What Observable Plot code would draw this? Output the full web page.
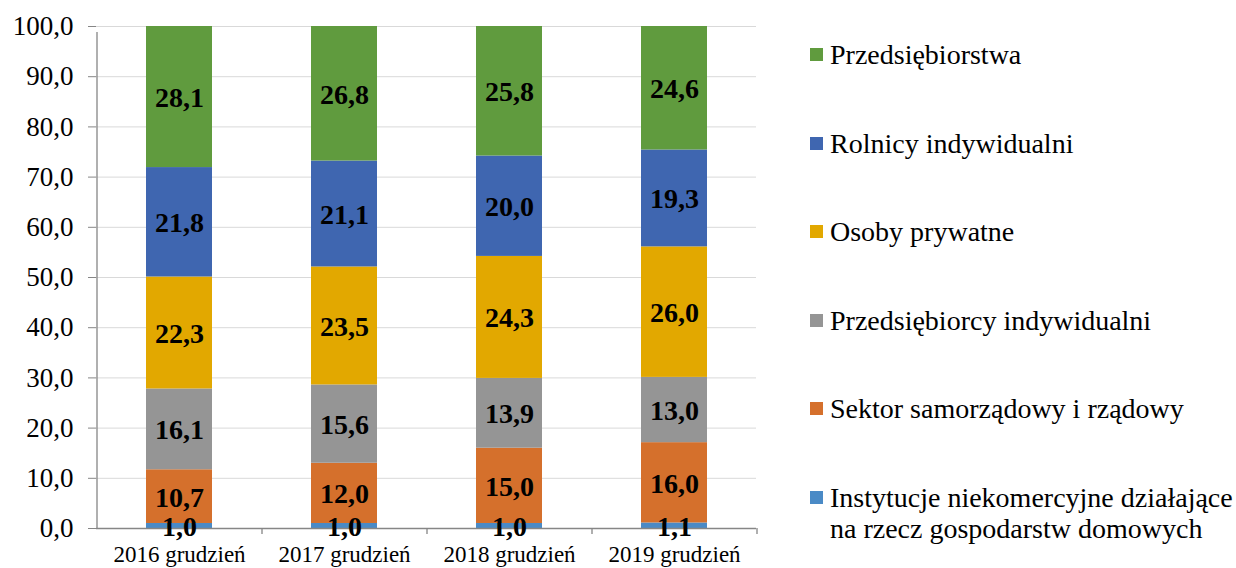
<!DOCTYPE html>
<html>
<head>
<meta charset="utf-8">
<script src="https://cdn.jsdelivr.net/npm/d3@7"></script>
<script src="https://cdn.jsdelivr.net/npm/@observablehq/plot@0.6"></script>
<style>
  html, body { margin: 0; padding: 0; background: #fff; }
  #wrap { position: relative; width: 1236px; height: 568px; overflow: hidden; font-family: "Liberation Serif", "Times New Roman", serif; }
  #chart { position: absolute; left: 0; top: 0; }
  .leg { position: absolute; left: 810px; font-size: 28px; line-height: 31px; color: #000; white-space: nowrap; }
  .leg .sw { position: absolute; left: 0; top: 9px; width: 13px; height: 13px; }
  .leg .lab { position: absolute; left: 20px; top: 0; }
</style>
</head>
<body>
<div id="wrap"><div id="chart"></div></div>
<script>
const years = ["2016 grudzień", "2017 grudzień", "2018 grudzień", "2019 grudzień"];
const seriesNames = [
  "Instytucje niekomercyjne działające na rzecz gospodarstw domowych",
  "Sektor samorządowy i rządowy",
  "Przedsiębiorcy indywidualni",
  "Osoby prywatne",
  "Rolnicy indywidualni",
  "Przedsiębiorstwa"
];
const instytucje = [1.0, 1.0, 1.0, 1.1];
const sektor = [10.7, 12.0, 15.0, 16.0];
const przedsiebiorcy = [16.1, 15.6, 13.9, 13.0];
const osoby = [22.3, 23.5, 24.3, 26.0];
const rolnicy = [21.8, 21.1, 20.0, 19.3];
const przedsiebiorstwa = [28.1, 26.8, 25.8, 24.6];
const seriesColors = ["#4a8ac6", "#d5702c", "#959595", "#e2a800", "#3f66b0", "#609b3e"];
const yTicks = [0, 10, 20, 30, 40, 50, 60, 70, 80, 90, 100];
const legendLabels = [
  "Przedsiębiorstwa",
  "Rolnicy indywidualni",
  "Osoby prywatne",
  "Przedsiębiorcy indywidualni",
  "Sektor samorządowy i rządowy",
  "Instytucje niekomercyjne działające<br>na rzecz gospodarstw domowych"
];

const seriesValues = [instytucje, sektor, przedsiebiorcy, osoby, rolnicy, przedsiebiorstwa];
const rows = [];
seriesNames.forEach((s, si) => {
  years.forEach((y, yi) => rows.push({year: y, series: s, value: seriesValues[si][yi]}));
});

const W = 780, H = 568, ML = 96, MR = 24, MT = 26, MB = 40;
const step = (W - ML - MR) / years.length;
const fmt = d => d.toFixed(1).replace(".", ",");
const axisColor = "#868686";

const plot = Plot.plot({
  width: W, height: H,
  marginLeft: ML, marginRight: MR, marginTop: MT, marginBottom: MB,
  style: {fontFamily: "'Liberation Serif', 'Times New Roman', serif", background: "white", color: "#000"},
  x: {domain: years, paddingInner: 0.6, paddingOuter: 0.3, label: null},
  y: {domain: [0, 100], label: null},
  color: {domain: seriesNames, range: seriesColors},
  marks: [
    Plot.gridY(yTicks, {stroke: "#d9d9d9", strokeOpacity: 1, strokeWidth: 1}),
    Plot.barY(rows, {x: "year", y: "value", fill: "series", z: "series", order: seriesNames}),
    Plot.ruleY([0], {stroke: axisColor, strokeWidth: 1.3}),
    Plot.ruleX([years[0]], {y1: 0, y2: 100, dx: -step / 2, stroke: axisColor, strokeWidth: 1.3, insetBottom: -6}),
    Plot.ruleX(years, {y1: 0, y2: 0, dx: step / 2, stroke: axisColor, strokeWidth: 1.3, insetBottom: -6}),
    Plot.axisY(yTicks, {tickFormat: fmt, tickSize: 8, tickPadding: 15, fontSize: 27, stroke: axisColor, label: null}),
    Plot.axisX({tickSize: 0, tickPadding: 17, fontSize: 23, label: null}),
    Plot.text(rows, Plot.stackY({x: "year", y: "value", z: "series", text: d => fmt(d.value), order: seriesNames, fontSize: 28, fontWeight: "bold", fill: "#000", dy: 1}))
  ]
});
document.getElementById("chart").appendChild(plot);

const wrap = document.getElementById("wrap");
legendLabels.forEach((lab, i) => {
  const item = document.createElement("div");
  item.className = "leg";
  item.style.top = (39 + i * 88.6) + "px";
  const sw = document.createElement("div");
  sw.className = "sw";
  sw.style.background = seriesColors[seriesColors.length - 1 - i];
  const t = document.createElement("div");
  t.className = "lab";
  t.innerHTML = lab;
  item.appendChild(sw);
  item.appendChild(t);
  wrap.appendChild(item);
});
</script>
</body>
</html>
